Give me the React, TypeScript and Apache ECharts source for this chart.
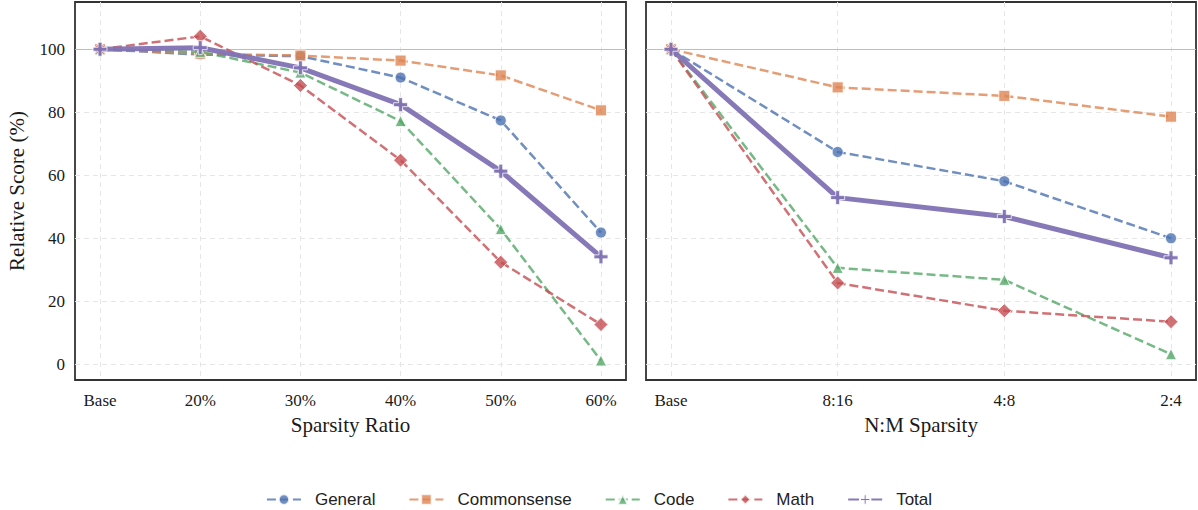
import React, { useEffect, useRef } from "react";
import * as echarts from "echarts";

const leftCategories = ["Base", "20%", "30%", "40%", "50%", "60%"];
const rightCategories = ["Base", "8:16", "4:8", "2:4"];
const yTicks = [0, 20, 40, 60, 80, 100];
const seriesNames = ["General", "Commonsense", "Code", "Math", "Total"];

const leftGeneral = [100, 98.3, 97.8, 91.0, 77.4, 41.8];
const leftCommonsense = [100, 98.6, 98.0, 96.4, 91.7, 80.6];
const leftCode = [100, 99.2, 92.6, 77.2, 42.9, 1.2];
const leftMath = [100, 104.1, 88.5, 64.8, 32.4, 12.6];
const leftTotal = [100, 100.5, 94.1, 82.4, 61.3, 34.1];

const rightGeneral = [100, 67.4, 58.1, 40.0];
const rightCommonsense = [100, 87.9, 85.2, 78.6];
const rightCode = [100, 30.6, 26.8, 3.2];
const rightMath = [100, 25.8, 17.0, 13.5];
const rightTotal = [100, 52.9, 46.9, 33.8];

const referenceValue = 100;

const colors = ["#4C72B0", "#DD8452", "#55A868", "#C44E52", "#8172B3"];
const plusPath = "path://M3.6,0H6.4V3.6H10V6.4H6.4V10H3.6V6.4H0V3.6H3.6Z";
const symbols = ["circle", "rect", "triangle", "diamond", plusPath];
const symbolSizes = [11, 11, 11, 14, 14];

const serif = "'Liberation Serif', 'Times New Roman', serif";
const sans = "'Liberation Sans', Arial, sans-serif";

function buildSeries(panel: number, arrays: number[][]) {
  return arrays.map((vals, i) => {
    const isTotal = i === 4;
    const s: any = {
      name: seriesNames[i],
      type: "line",
      xAxisIndex: panel,
      yAxisIndex: panel,
      data: vals.map((v, k) => [k, v]),
      symbol: symbols[i],
      symbolSize: symbolSizes[i],
      clip: false,
      z: 3 + i,
      lineStyle: {
        color: colors[i],
        width: isTotal ? 5 : 2.5,
        type: isTotal ? "solid" : [9, 4],
        opacity: isTotal ? 0.95 : 0.8,
      },
      itemStyle: {
        color: colors[i],
        borderColor: "#ffffff",
        borderWidth: isTotal ? 0.8 : 1,
        opacity: isTotal ? 0.95 : 0.8,
      },
      emphasis: { disabled: true },
    };
    if (i === 0) {
      s.markLine = {
        silent: true,
        symbol: "none",
        label: { show: false },
        lineStyle: { color: "#bdbdbd", width: 1.2, type: "solid", opacity: 1 },
        data: [{ yAxis: referenceValue }],
        z: 1,
      };
    }
    return s;
  });
}

function makeXAxis(panel: number, cats: string[], name: string) {
  const n = cats.length - 1;
  const pad = n * 0.05;
  const idx = cats.map((_, k) => k);
  return {
    type: "value",
    gridIndex: panel,
    min: -pad,
    max: n + pad,
    name,
    nameLocation: "middle",
    nameGap: 34,
    nameTextStyle: { fontFamily: serif, fontSize: 21, color: "#1a1a1a" },
    axisLine: { show: false },
    axisTick: { show: false, customValues: idx },
    axisLabel: {
      customValues: idx,
      formatter: (v: number) => cats[Math.round(v)] ?? "",
      fontFamily: serif,
      fontSize: 17,
      color: "#1a1a1a",
      margin: 12,
    },
    splitLine: { show: true, lineStyle: { color: "#e6e6e6", type: [5, 4], width: 1 } },
  };
}

function makeYAxis(panel: number, showLabels: boolean) {
  return {
    type: "value",
    gridIndex: panel,
    min: -5,
    max: 115,
    name: showLabels ? "Relative Score (%)" : "",
    nameLocation: "middle",
    nameGap: 48,
    nameTextStyle: { fontFamily: serif, fontSize: 21, color: "#1a1a1a" },
    axisLine: { show: false },
    axisTick: { show: false, customValues: yTicks },
    axisLabel: {
      show: showLabels,
      customValues: yTicks,
      fontFamily: serif,
      fontSize: 17,
      color: "#1a1a1a",
      margin: 10,
    },
    splitLine: { show: true, lineStyle: { color: "#e6e6e6", type: [5, 4], width: 1 } },
  };
}

export default function App() {
  const ref = useRef<HTMLDivElement>(null);
  useEffect(() => {
    document.body.style.margin = "0";
    if (!ref.current) return;
    const chart = echarts.init(ref.current, undefined, { renderer: "svg" });
    const option: any = {
      animation: false,
      backgroundColor: "#ffffff",
      grid: [
        { left: 75, top: 2, width: 551, height: 378, show: true, borderColor: "#333333", borderWidth: 1.8, backgroundColor: "transparent" },
        { left: 646, top: 2, width: 550, height: 378, show: true, borderColor: "#333333", borderWidth: 1.8, backgroundColor: "transparent" },
      ],
      xAxis: [
        makeXAxis(0, leftCategories, "Sparsity Ratio"),
        makeXAxis(1, rightCategories, "N:M Sparsity"),
      ],
      yAxis: [makeYAxis(0, true), makeYAxis(1, false)],
      legend: {
        data: seriesNames,
        top: 486,
        left: "center",
        itemWidth: 34,
        itemHeight: 13,
        itemGap: 33,
        textStyle: { fontFamily: sans, fontSize: 17, color: "#222222", padding: [0, 0, 0, 9] },
      },
      series: [
        ...buildSeries(0, [leftGeneral, leftCommonsense, leftCode, leftMath, leftTotal]),
        ...buildSeries(1, [rightGeneral, rightCommonsense, rightCode, rightMath, rightTotal]),
      ],
    };
    chart.setOption(option);
    return () => chart.dispose();
  }, []);
  return <div ref={ref} style={{ width: 1198, height: 510 }} />;
}
